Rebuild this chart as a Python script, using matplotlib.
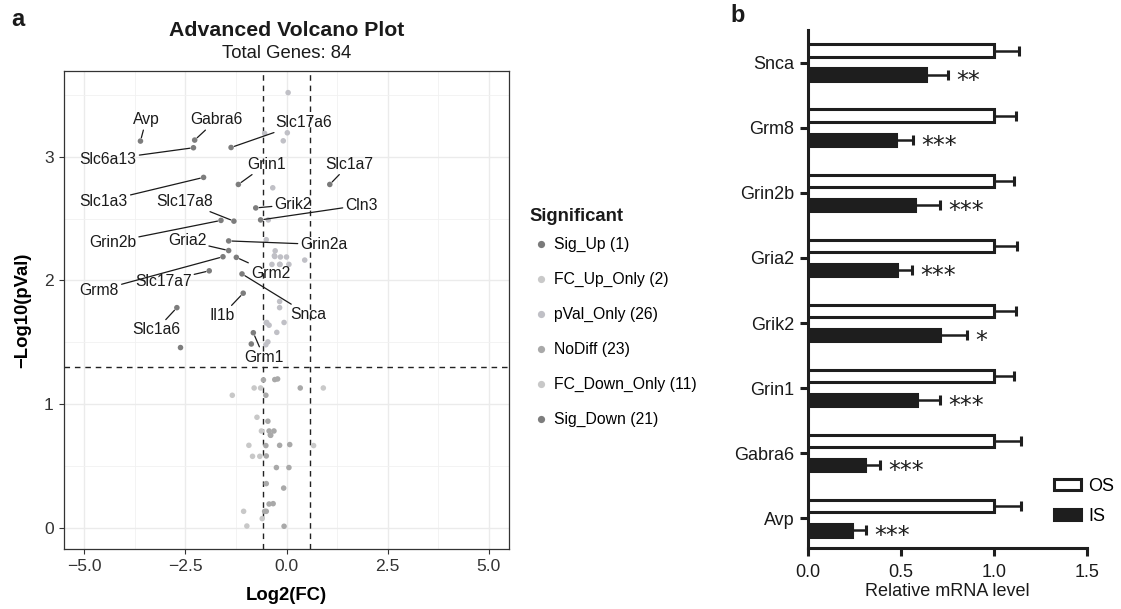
import numpy as np
import matplotlib
matplotlib.use("Agg")
import matplotlib.pyplot as plt
from matplotlib.lines import Line2D
from matplotlib.patches import Patch

plt.rcParams['font.family'] = ['Liberation Sans', 'DejaVu Sans']

# ---- panel a: volcano data ----
sig_down_genes = ['Avp', 'Gabra6', 'Slc6a13', 'Slc17a6', 'Slc1a3', 'Grin1', 'Grik2',
                  'Slc17a8', 'Grin2b', 'Cln3', 'Grin2a', 'Gria2', 'Grm8', 'Slc17a7',
                  'Grm2', 'Snca', 'Il1b', 'Slc1a6', 'Grm1', '', '']
sig_down_x = [-3.61, -2.27, -2.30, -1.37, -2.05, -1.19, -0.76, -1.30, -1.62, -0.64, -1.43,
              -1.43, -1.57, -1.91, -1.24, -1.10, -1.07, -2.71, -0.82, -2.62, -0.87]
sig_down_y = [3.128, 3.136, 3.074, 3.076, 2.834, 2.777, 2.587, 2.480, 2.486, 2.490, 2.320,
              2.242, 2.192, 2.078, 2.187, 2.053, 1.897, 1.780, 1.577, 1.457, 1.486]

sig_up_genes = ['Slc1a7']
sig_up_x = [1.07]
sig_up_y = [2.777]

fc_up_x = [0.91, 0.67]
fc_up_y = [1.13, 0.664]

pval_x = [0.04, -0.54, 0.02, -0.08, -0.34, -0.45, -0.50, -0.28, -0.29, -0.15, 0.00, -0.36, -0.17,
          0.06, 0.45, -0.17, -0.17, -0.50, -0.43, -0.06, -0.24, -0.46, -0.51, -0.30, -0.16, -0.49]
pval_y = [3.52, 3.19, 3.195, 3.13, 2.75, 2.49, 2.33, 2.24, 2.194, 2.19, 2.19, 2.13, 2.13,
          2.13, 2.165, 1.83, 1.78, 1.657, 1.638, 1.66, 1.58, 1.503, 1.48, 2.20, 2.13, 1.66]

nodiff_x = [-0.57, -0.29, -0.22, 0.34, -0.51, -0.46, -0.43, -0.31, -0.39, -0.51, -0.17, 0.08,
            -0.50, -0.25, 0.06, -0.50, -0.07, -0.43, -0.33, -0.54, -0.50, -0.06, -0.40]
nodiff_y = [1.195, 1.198, 1.203, 1.13, 1.071, 0.861, 0.782, 0.782, 0.747, 0.664, 0.666, 0.672,
            0.58, 0.486, 0.486, 0.356, 0.32, 0.191, 0.194, 0.132, 0.132, 0.011, 0.75]

fc_down_x = [-0.80, -0.64, -1.34, -0.73, -0.62, -0.93, -0.84, -0.66, -1.06, -0.98, -0.60]
fc_down_y = [1.13, 1.13, 1.071, 0.893, 0.782, 0.666, 0.577, 0.577, 0.132, 0.013, 0.073]

groups = ['Sig_Up', 'FC_Up_Only', 'pVal_Only', 'NoDiff', 'FC_Down_Only', 'Sig_Down']
group_colors = ['#7a7a7a', '#c9c9c9', '#c0c0c6', '#a9a9a9', '#c8c8c8', '#7d7d7d']

fc_cut = np.log2(1.5)
p_cut = -np.log10(0.05)

# label text positions for the repelled labels (layout)
label_pos = {
    'Avp': (-3.47, 3.30), 'Gabra6': (-1.73, 3.30), 'Slc17a6': (0.42, 3.28),
    'Slc6a13': (-4.41, 2.98), 'Grin1': (-0.50, 2.94), 'Slc1a7': (1.55, 2.94),
    'Slc1a3': (-4.52, 2.64), 'Slc17a8': (-2.53, 2.64), 'Grik2': (0.17, 2.615),
    'Cln3': (1.86, 2.61), 'Grin2b': (-4.30, 2.31), 'Gria2': (-2.46, 2.32),
    'Grin2a': (0.93, 2.29), 'Grm2': (-0.39, 2.06), 'Slc17a7': (-3.05, 1.99),
    'Grm8': (-4.63, 1.92), 'Snca': (0.53, 1.725), 'Il1b': (-1.60, 1.715),
    'Slc1a6': (-3.22, 1.60), 'Grm1': (-0.56, 1.38),
}

# ---- panel b: qPCR bars ----
genes_b = ['Avp', 'Gabra6', 'Grin1', 'Grik2', 'Gria2', 'Grin2b', 'Grm8', 'Snca']
os_val = [1.0, 1.0, 1.0, 1.0, 1.0, 1.0, 1.0, 1.0]
os_err = [0.145, 0.145, 0.11, 0.12, 0.125, 0.11, 0.12, 0.135]
is_val = [0.235, 0.305, 0.585, 0.71, 0.48, 0.575, 0.47, 0.635]
is_err = [0.075, 0.08, 0.125, 0.145, 0.08, 0.135, 0.095, 0.12]
stars = ['***', '***', '***', '*', '***', '***', '***', '**']

W, H = 1121, 609
fig = plt.figure(figsize=(W / 100, H / 100), dpi=100)

# ================= panel a =================
ax = fig.add_axes([64 / W, 1 - 549 / H, 445 / W, 478 / H])
ax.set_xlim(-5.5, 5.5)
ax.set_ylim(-0.173, 3.695)
ax.set_xticks([-5, -2.5, 0, 2.5, 5])
ax.set_yticks([0, 1, 2, 3])
ax.set_xticks([-3.75, -1.25, 1.25, 3.75], minor=True)
ax.set_yticks([0.5, 1.5, 2.5, 3.5], minor=True)
ax.grid(True, which='major', color='#ebebeb', lw=1.0, zorder=0)
ax.grid(True, which='minor', color='#f1f1f1', lw=0.6, zorder=0)
ax.set_axisbelow(True)
ax.tick_params(which='minor', length=0)
ax.tick_params(which='major', length=3.5, width=0.8, color='#333333',
               labelsize=12.6, labelcolor='#333333', pad=4)
for s in ax.spines.values():
    s.set_color('#333333')
    s.set_linewidth(0.9)

series = [(sig_up_x, sig_up_y), (fc_up_x, fc_up_y), (pval_x, pval_y),
          (nodiff_x, nodiff_y), (fc_down_x, fc_down_y), (sig_down_x, sig_down_y)]
handles = []
for (xs, ys), g, c in zip(series, groups, group_colors):
    ax.scatter(xs, ys, s=16, color=c, edgecolors='none', zorder=3)
    handles.append(Line2D([], [], marker='o', ls='', color=c, markersize=5.2,
                          markeredgewidth=0))

ax.axvline(-fc_cut, color='#222222', lw=1.0, ls=(0, (4, 3.5)), zorder=2)
ax.axvline(fc_cut, color='#222222', lw=1.0, ls=(0, (4, 3.5)), zorder=2)
ax.axhline(p_cut, color='#222222', lw=1.0, ls=(0, (4, 3.5)), zorder=2)

for genes, xs, ys in [(sig_down_genes, sig_down_x, sig_down_y),
                      (sig_up_genes, sig_up_x, sig_up_y)]:
    for g, x, y in zip(genes, xs, ys):
        if g in label_pos:
            ax.annotate(g, xy=(x, y), xytext=label_pos[g], textcoords='data',
                        ha='center', va='center', fontsize=11.3, color='#1a1a1a',
                        arrowprops=dict(arrowstyle='-', color='#1a1a1a', lw=0.9,
                                        shrinkA=0, shrinkB=2.5), zorder=4)

ax.set_xlabel('Log2(FC)', fontsize=13.3, fontweight='bold', labelpad=9)
ax.set_ylabel('\u2212Log10(pVal)', fontsize=13.3, fontweight='bold', labelpad=9)

fig.text(286.5 / W, 1 - 30 / H, 'Advanced Volcano Plot', ha='center', va='center',
         fontsize=15.3, fontweight='bold', color='#1a1a1a')
fig.text(286.5 / W, 1 - 54 / H, 'Total Genes: 84', ha='center', va='center',
         fontsize=13.3, color='#1a1a1a')

counts = [len(sig_up_x), len(fc_up_x), len(pval_x), len(nodiff_x), len(fc_down_x), len(sig_down_x)]
labels = ['%s (%d)' % (g, n) for g, n in zip(groups, counts)]
fig.text(529 / W, 1 - 216.7 / H, 'Significant', ha='left', va='center',
         fontsize=13.3, fontweight='bold', color='#1a1a1a')
ax.legend(handles, labels, loc='upper left',
          bbox_to_anchor=(529 / W, 1 - 237 / H), bbox_transform=fig.transFigure,
          frameon=False, fontsize=11.3, handlelength=1.5, handletextpad=0.1,
          labelspacing=1.27, borderpad=0, borderaxespad=0)

fig.text(18 / W, 1 - 19 / H, 'a', ha='center', va='center', fontsize=17,
         fontweight='bold', color='#1a1a1a')

# ================= panel b =================
bx = fig.add_axes([808.3 / W, 1 - 548.3 / H, 278.4 / W, 518.3 / H])
pos = np.arange(len(genes_b))
dark = '#1e1e1e'
off = 0.185
bh = 0.19

bx.errorbar(os_val, pos + off, xerr=[np.zeros(len(pos)), os_err], fmt='none',
            ecolor=dark, elinewidth=1.8, capsize=3.5, capthick=2.2, zorder=2)
bx.errorbar(is_val, pos - off, xerr=[np.zeros(len(pos)), is_err], fmt='none',
            ecolor=dark, elinewidth=1.8, capsize=3.5, capthick=2.2, zorder=2)
bx.barh(pos + off, os_val, height=bh, color='white', edgecolor=dark, lw=2.2, zorder=3)
bx.barh(pos - off, is_val, height=bh, color=dark, edgecolor=dark, lw=2.2, zorder=3)

for p, v, e, s in zip(pos, is_val, is_err, stars):
    bx.text(v + e + 0.045, p - off - 0.2, s, fontsize=17, family='DejaVu Sans',
            ha='left', va='baseline', color=dark)

bx.set_xlim(0, 1.5)
bx.set_ylim(-0.46, 7.5)
bx.set_xticks([0, 0.5, 1.0, 1.5])
bx.set_yticks(pos)
bx.set_yticklabels(genes_b)
bx.spines['top'].set_visible(False)
bx.spines['right'].set_visible(False)
bx.spines['left'].set_linewidth(2.2)
bx.spines['bottom'].set_linewidth(2.2)
bx.spines['left'].set_color(dark)
bx.spines['bottom'].set_color(dark)
bx.tick_params(length=5.5, width=2.2, color=dark, labelsize=13, labelcolor='#1a1a1a', pad=3)
bx.tick_params(axis='x', pad=5.5)
bx.tick_params(axis='y', pad=4.5)
bx.set_xlabel('Relative mRNA level', fontsize=13, color='#1a1a1a', labelpad=2)

bx.legend([Patch(facecolor='white', edgecolor=dark, lw=2.2),
           Patch(facecolor=dark, edgecolor=dark, lw=2.2)], ['OS', 'IS'],
          loc='upper left', bbox_to_anchor=(1054 / W, 1 - 478 / H),
          bbox_transform=fig.transFigure, frameon=False, fontsize=13,
          handlelength=1.5, handleheight=0.6, handletextpad=0.4,
          labelspacing=0.7, borderpad=0, borderaxespad=0)

fig.text(738 / W, 1 - 16 / H, 'b', ha='center', va='center', fontsize=17,
         fontweight='bold', color='#1a1a1a')

fig.savefig('out.png', dpi=100)
